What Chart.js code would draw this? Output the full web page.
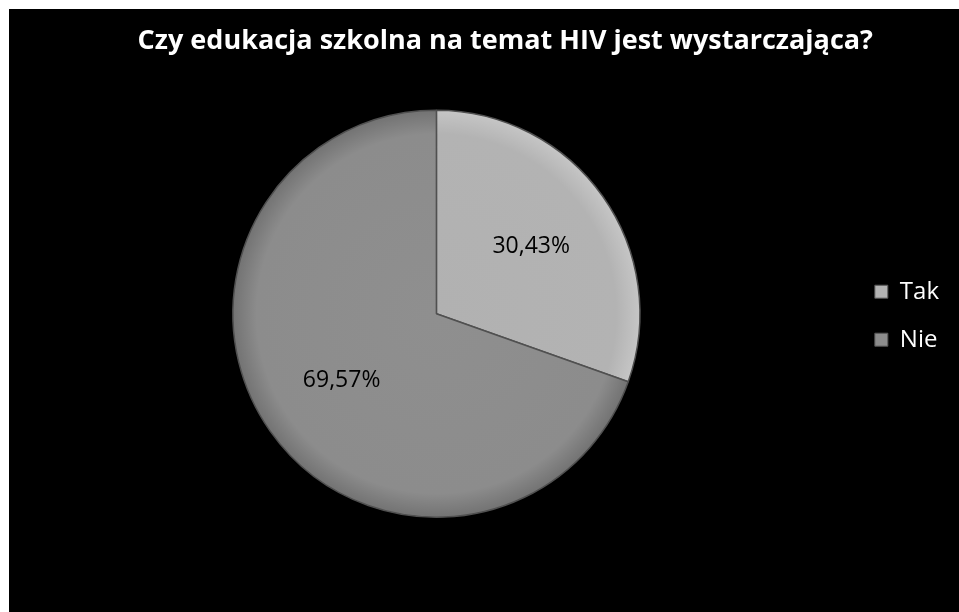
<!DOCTYPE html>
<html>
<head>
<meta charset="utf-8">
<script src="https://cdn.jsdelivr.net/npm/chart.js@4"></script>
<style>
  html, body { margin: 0; padding: 0; background: #fff; }
  #wrap { position: absolute; left: 9px; top: 9px; width: 950px; height: 603px; background: #000; }
</style>
</head>
<body>
<div id="wrap"><canvas id="hivChart"></canvas></div>
<script>
// chart data
const categories = ["Tak", "Nie"];
const percentValues = [30.43, 69.57];
const chartTitle = "Czy edukacja szkolna na temat HIV jest wystarczająca?";

const sliceColors = [
    ["#b1b1b1", "#b3b3b3", "#c6c6c6"],
    ["#8f8f8f", "#8c8c8c", "#727272"]
];

function sliceFill(context) {
    const chart = context.chart;
    const area = chart.chartArea;
    if (!area) return sliceColors[context.dataIndex][1];
    const cx = (area.left + area.right) / 2;
    const cy = (area.top + area.bottom) / 2;
    const r = Math.min(area.right - area.left, area.bottom - area.top) / 2;
    const g = chart.ctx.createRadialGradient(cx, cy, 0, cx, cy, r);
    const c = sliceColors[context.dataIndex];
    g.addColorStop(0, c[0]);
    g.addColorStop(0.88, c[1]);
    g.addColorStop(1, c[2]);
    return g;
}

// percent labels inside slices
const sliceLabels = {
    id: "sliceLabels",
    afterDatasetsDraw(chart) {
        const ctx = chart.ctx;
        const meta = chart.getDatasetMeta(0);
        ctx.save();
        ctx.fillStyle = "#000";
        ctx.font = "23px 'Open Sans', sans-serif";
        ctx.textAlign = "center";
        ctx.textBaseline = "middle";
        meta.data.forEach(function (arc, i) {
            const p = arc.getProps(["x", "y", "startAngle", "endAngle", "outerRadius"], true);
            const mid = (p.startAngle + p.endAngle) / 2;
            const d = p.outerRadius * 0.57;
            const text = percentValues[i].toFixed(2).replace(".", ",") + "%";
            ctx.fillText(text, p.x + Math.cos(mid) * d, p.y + Math.sin(mid) * d);
        });
        ctx.restore();
    }
};

document.addEventListener("DOMContentLoaded", function () {
    const ctx = document.getElementById("hivChart");
    new Chart(ctx, {
        type: "pie",
        data: {
            labels: categories,
            datasets: [{
                data: percentValues,
                backgroundColor: sliceFill,
                borderColor: "#505050",
                borderWidth: 1.5
            }]
        },
        options: {
            responsive: true,
            maintainAspectRatio: false,
            animation: false,
            layout: {
                padding: { top: 0, left: 13, right: 10, bottom: 94 }
            },
            plugins: {
                title: {
                    display: true,
                    // leading spaces push the title a bit right of the canvas centre, like the original
                    text: "\u00a0\u00a0\u00a0\u00a0\u00a0\u2009" + chartTitle,
                    color: "#fff",
                    font: { family: "'Open Sans', sans-serif", size: 27, weight: "bold" },
                    padding: { top: 16, bottom: 52 }
                },
                legend: {
                    position: "right",
                    title: {
                        display: true,
                        text: "",
                        padding: { top: 45, bottom: 45 }
                    },
                    labels: {
                        color: "#fff",
                        font: { family: "'Open Sans', sans-serif", size: 24 },
                        boxWidth: 13,
                        boxHeight: 13,
                        padding: 24,
                        generateLabels: function (chart) {
                            return categories.map(function (c, i) {
                                return {
                                    text: c,
                                    fillStyle: sliceColors[i][1],
                                    strokeStyle: "#555",
                                    lineWidth: 1,
                                    fontColor: "#fff",
                                    index: i
                                };
                            });
                        }
                    }
                },
                tooltip: { enabled: false }
            }
        },
        plugins: [sliceLabels]
    });
});
</script>
</body>
</html>
